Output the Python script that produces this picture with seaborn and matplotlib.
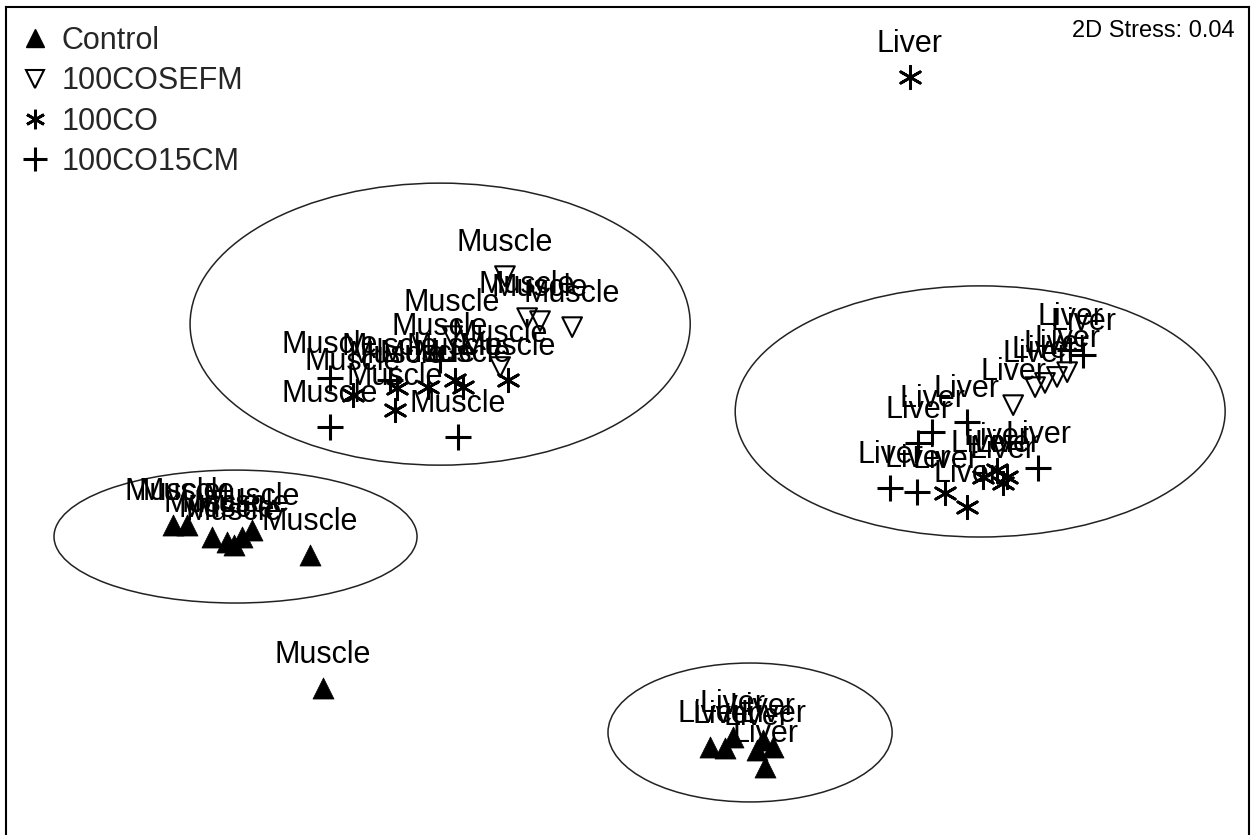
import matplotlib
matplotlib.use("Agg")
import matplotlib.pyplot as plt
from matplotlib.patches import Ellipse
from matplotlib.lines import Line2D
import numpy as np
import pandas as pd
import seaborn as sns

# NMDS ordination scores (NMDS1, NMDS2) per diet group and tissue
groups = ["Control", "100COSEFM", "100CO", "100CO15CM"]

control_muscle_x = [-1.523, -1.477, -1.393, -1.343, -1.320, -1.293, -1.260, -1.067, -1.023]
control_muscle_y = [-0.317, -0.317, -0.357, -0.373, -0.383, -0.357, -0.333, -0.417, -0.860]
control_liver_x = [0.267, 0.317, 0.343, 0.423, 0.443, 0.450, 0.477]
control_liver_y = [-1.057, -1.060, -1.023, -1.067, -1.033, -1.123, -1.057]

sefm_muscle_x = [-0.417, -0.193, -0.343, -0.300, -0.593, -0.433]
sefm_muscle_y = [0.513, 0.343, 0.373, 0.363, 0.313, 0.210]
sefm_liver_x = [1.350, 1.383, 1.423, 1.457, 1.277]
sefm_liver_y = [0.143, 0.157, 0.177, 0.193, 0.083]

co_muscle_x = [-0.923, -0.783, -0.777, -0.673, -0.583, -0.557, -0.407]
co_muscle_y = [0.117, 0.067, 0.140, 0.143, 0.167, 0.143, 0.167]
co_liver_x = [1.050, 1.123, 1.177, 1.223, 1.243, 1.257, 0.933]
co_liver_y = [-0.210, -0.257, -0.157, -0.133, -0.177, -0.157, 1.177]

cm_muscle_x = [-1.000, -1.000, -0.573, -0.800, -0.633]
cm_muscle_y = [0.173, 0.010, -0.023, 0.167, 0.233]
cm_liver_x = [0.867, 0.957, 1.360, 1.007, 0.960, 1.123, 1.510, 1.467]
cm_liver_y = [-0.193, -0.207, -0.127, -0.007, -0.043, 0.027, 0.250, 0.267]

# Cluster ellipses: centre x, centre y, width, height
ellipse_cx = [-0.633, -1.315, 1.167, 0.400]
ellipse_cy = [0.353, -0.355, 0.062, -1.008]
ellipse_w = [1.667, 1.210, 1.633, 0.947]
ellipse_h = [0.940, 0.443, 0.837, 0.463]

stress_label = "2D Stress: 0.04"

series = {
    "Control": (control_muscle_x, control_muscle_y, control_liver_x, control_liver_y),
    "100COSEFM": (sefm_muscle_x, sefm_muscle_y, sefm_liver_x, sefm_liver_y),
    "100CO": (co_muscle_x, co_muscle_y, co_liver_x, co_liver_y),
    "100CO15CM": (cm_muscle_x, cm_muscle_y, cm_liver_x, cm_liver_y),
}

rows = []
for g, (mx, my, lx, ly) in series.items():
    for x, y in zip(mx, my):
        rows.append((g, "Muscle", x, y))
    for x, y in zip(lx, ly):
        rows.append((g, "Liver", x, y))
df = pd.DataFrame(rows, columns=["group", "tissue", "NMDS1", "NMDS2"])

sns.set_style("white")
plt.rcParams["font.family"] = ["Liberation Sans", "DejaVu Sans"]

fig = plt.figure(figsize=(12.56, 8.35), dpi=100)
W, H = 1256, 835
ax = fig.add_axes([6 / W, (835 - 845) / H, 1243 / W, 838 / H])

styles = {
    "Control": dict(marker="^", s=230, color="black", edgecolor="black", linewidth=0.5),
    "100COSEFM": dict(marker="v", s=200, color="black", facecolor="none",
                      edgecolor="black", linewidth=1.5),
    "100CO": dict(marker=(6, 2, 0), s=260, color="black", linewidth=2.0),
    "100CO15CM": dict(marker="+", s=330, color="black", linewidth=2.2),
}

for g in groups:
    sub = df[df["group"] == g]
    sns.scatterplot(data=sub, x="NMDS1", y="NMDS2", ax=ax, legend=False,
                    zorder=3, **styles[g])

for _, r in df.iterrows():
    ax.annotate(r["tissue"], (r["NMDS1"], r["NMDS2"]), xytext=(0, 23.8),
                textcoords="offset points", ha="center", va="center",
                fontsize=22, color="black", zorder=4)

for cx, cy, w, h in zip(ellipse_cx, ellipse_cy, ellipse_w, ellipse_h):
    ax.add_patch(Ellipse((cx, cy), w, h, fill=False, edgecolor="#222222",
                         linewidth=1.1, zorder=2))

ax.set_xlim(-2.08, 2.063)
ax.set_ylim(-1.383, 1.41)
ax.set_xticks([])
ax.set_yticks([])
ax.set_xlabel("")
ax.set_ylabel("")
for sp in ax.spines.values():
    sp.set_color("black")
    sp.set_linewidth(1.5)

handles = [
    Line2D([], [], linestyle="none", marker="^", markersize=13,
           markerfacecolor="black", markeredgecolor="black"),
    Line2D([], [], linestyle="none", marker="v", markersize=13,
           markerfacecolor="none", markeredgecolor="black", markeredgewidth=1.5),
    Line2D([], [], linestyle="none", marker=(6, 2, 0), markersize=14,
           markeredgecolor="black", markeredgewidth=2.0),
    Line2D([], [], linestyle="none", marker="+", markersize=17,
           markeredgecolor="black", markeredgewidth=2.2),
]
ax.legend(handles, groups, loc="upper left", bbox_to_anchor=(14 / 1243, 1 - 19 / 838),
          frameon=False, fontsize=22, borderpad=0, borderaxespad=0,
          handlelength=0.95, handletextpad=0.4, labelspacing=0.34)

fig.text(1235 / W, 1 - 31 / H, stress_label, ha="right", va="center",
         fontsize=17, color="black")

fig.savefig("out.png", dpi=100)
